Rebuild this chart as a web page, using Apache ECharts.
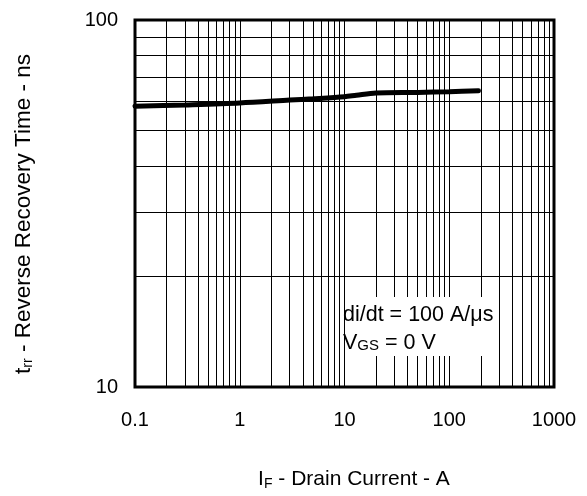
<!DOCTYPE html>
<html>
<head>
<meta charset="utf-8">
<script src="https://cdn.jsdelivr.net/npm/echarts@6/dist/echarts.min.js"></script>
<style>html,body{margin:0;padding:0;background:#fff}#c{width:587px;height:496px}</style>
</head>
<body>
<div id="c"></div>
<script>
// Data
const currentA = [0.1, 0.3, 1, 3, 5, 10, 13, 20, 50, 100, 190];
const trrNs    = [58.2, 58.7, 59.4, 60.5, 61.0, 61.8, 62.4, 63.3, 63.5, 63.8, 64.2];
const xTickLabels = ['0.1', '1', '10', '100', '1000'];
const yTickLabels = ['10', '100'];
const xGridLines = [0.2,0.3,0.4,0.5,0.6,0.7,0.8,0.9,1,2,3,4,5,6,7,8,9,10,20,30,40,50,60,70,80,90,100,200,300,400,500,600,700,800,900];
const yGridLines = [20,30,40,50,60,70,80,90];

const FONT = '"Liberation Sans", Arial, sans-serif';
const chart = echarts.init(document.getElementById('c'), null, {renderer: 'canvas'});
const gridLeft = 135, gridRight = 33, gridTop = 20, gridBottom = 109;

const option = {
  animation: false,
  backgroundColor: '#fff',
  grid: {left: gridLeft, right: gridRight, top: gridTop, bottom: gridBottom, show: true,
         borderColor: '#000', borderWidth: 3, backgroundColor: 'transparent'},
  xAxis: {
    type: 'log', logBase: 10, min: 0.1, max: 1000,
    axisLine: {show: false}, axisTick: {show: false}, splitLine: {show: false},
    axisLabel: {color: '#000', fontSize: 20, fontFamily: FONT, margin: 23,
      formatter: function (v) {
        const s = String(+v.toPrecision(6));
        return xTickLabels.indexOf(s) >= 0 ? s : '';
      }}
  },
  yAxis: {
    type: 'log', logBase: 10, min: 10, max: 100,
    axisLine: {show: false}, axisTick: {show: false}, splitLine: {show: false},
    axisLabel: {color: '#000', fontSize: 20, fontFamily: FONT, margin: 17,
      formatter: function (v) {
        const s = String(+v.toPrecision(6));
        return yTickLabels.indexOf(s) >= 0 ? s : '';
      }}
  },
  series: [
    {
      type: 'line', data: [], z: 1, silent: true,
      markLine: {
        silent: true, symbol: ['none', 'none'], animation: false,
        label: {show: false},
        lineStyle: {color: '#000', width: 1, type: 'solid'},
        emphasis: {disabled: true},
        data: xGridLines.map(v => ({xAxis: v})).concat(yGridLines.map(v => ({yAxis: v})))
      }
    },
    {
      type: 'line', z: 5, showSymbol: false, symbol: 'none', smooth: 0.3,
      lineStyle: {color: '#000', width: 5, cap: 'round'},
      data: currentA.map((x, i) => [x, trrNs[i]])
    }
  ],
  graphic: [
    {type: 'rect', z: 50, shape: {x: 345, y: 297, width: 152, height: 59}, style: {fill: '#fff'}},
    {type: 'text', z: 51, x: 343, y: 315, style: {text: 'di/dt = 100 A/\u03bcs', font: '21.5px ' + FONT, fill: '#000', textVerticalAlign: 'middle'}},
    {type: 'text', z: 51, x: 343, y: 342, style: {
      text: '{a|V}{s|GS}{a| = 0 V}', fill: '#000', textVerticalAlign: 'middle',
      rich: {a: {fontSize: 21.5, fontFamily: FONT, verticalAlign: 'bottom', lineHeight: 24},
             s: {fontSize: 15, fontFamily: FONT, verticalAlign: 'bottom', lineHeight: 24, padding: [0,0,1,0]}}
    }},
    {type: 'text', z: 51, x: 354, y: 481, style: {
      text: '{a|I}{s|F}{a| - Drain Current - A}', fill: '#000', textAlign: 'center', textVerticalAlign: 'middle',
      rich: {a: {fontSize: 21, fontFamily: FONT, verticalAlign: 'top', lineHeight: 24},
             s: {fontSize: 14, fontFamily: FONT, verticalAlign: 'top', lineHeight: 24, padding: [8,0,0,0]}}
    }},
    {type: 'text', z: 51, x: 25, y: 214, rotation: Math.PI / 2, style: {
      text: '{a|t}{s|rr}{a| - Reverse Recovery Time - ns}', fill: '#000', textAlign: 'center', textVerticalAlign: 'middle',
      rich: {a: {fontSize: 22.5, fontFamily: FONT, verticalAlign: 'top', lineHeight: 25},
             s: {fontSize: 14, fontFamily: FONT, verticalAlign: 'top', lineHeight: 25, padding: [9,0,0,0]}}
    }}
  ]
};
chart.setOption(option);
</script>
</body>
</html>
